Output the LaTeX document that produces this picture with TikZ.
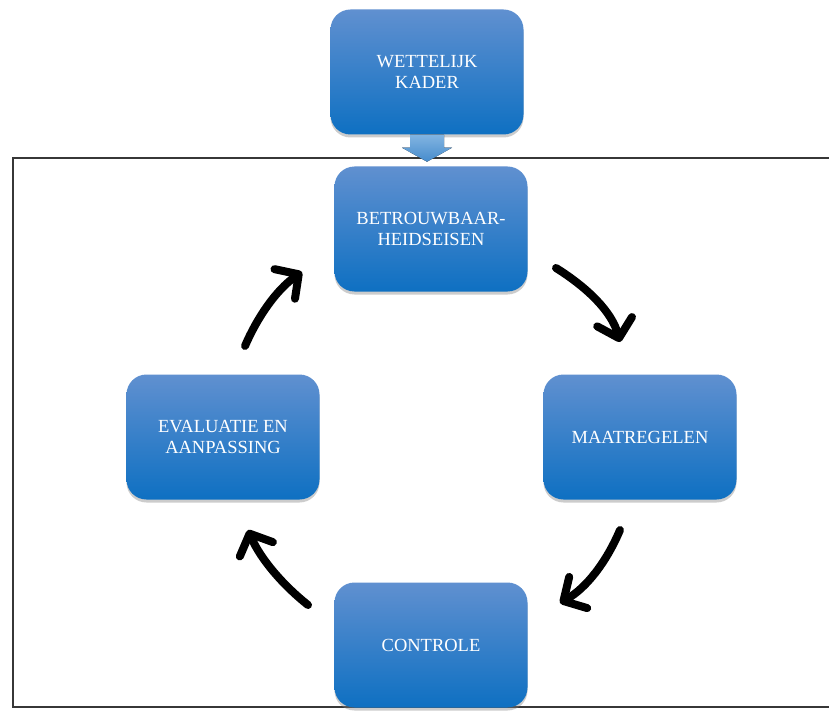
\documentclass[tikz,border=0pt]{standalone}
\usepackage{fontspec}
\setmainfont{Liberation Serif}
\usetikzlibrary{arrows.meta,shadows,calc}
\definecolor{boxtop}{RGB}{96,144,208}
\definecolor{boxbot}{RGB}{14,112,194}
\definecolor{frameline}{RGB}{55,55,55}
\definecolor{arrtop}{RGB}{130,180,225}
\definecolor{arrbot}{RGB}{70,140,205}
\tikzset{
  stepbox/.style={rounded corners=20pt, minimum width=193pt, minimum height=125pt,
    top color=boxtop, bottom color=boxbot, draw=none, text=white, align=center,
    font=\fontsize{18.5}{21}\selectfont,
    drop shadow={shadow xshift=0pt, shadow yshift=-3pt, opacity=0.4}},
  cyclearrow/.style={line width=8pt, line cap=round, line join=round, black,
    -{Straight Barb[length=17pt,width=36pt,line cap=round,line join=round]}},
}
\begin{document}
\begin{tikzpicture}[x=1pt,y=-1pt]
\useasboundingbox (0,0) rectangle (829,711);
\fill[white] (0,0) rectangle (829,711);
\begin{scope}
\clip (0,0) rectangle (829,711);
\draw[frameline, line width=1.8pt] (13,158) rectangle (860,707);
\end{scope}
\node[stepbox] (wk) at (427,72) {WETTELIJK\\KADER};
\node[stepbox] (bh) at (431,229) {BETROUWBAAR-\\HEIDSEISEN};
\node[stepbox] (mr) at (640,437) {MAATREGELEN};
\node[stepbox] (ev) at (223,437) {EVALUATIE EN\\AANPASSING};
\node[stepbox] (ct) at (431,645) {CONTROLE};
% small block arrow from WETTELIJK KADER down
\fill[top color=arrtop, bottom color=arrbot]
  ($(wk.south)+(-17,0)$) -- ($(wk.south)+(17,0)$) -- ($(wk.south)+(17,13)$) --
  ($(wk.south)+(25,13)$) -- ($(wk.south)+(0,27)$) -- ($(wk.south)+(-25,13)$) --
  ($(wk.south)+(-17,13)$) -- cycle;
% cycle arrows
\coordinate (a1s) at (556,268); \coordinate (a1e) at (620,342);
\coordinate (a2s) at (620,530); \coordinate (a2e) at (560,603);
\coordinate (a3s) at (308,605); \coordinate (a3e) at (248,530);
\coordinate (a4s) at (245,346); \coordinate (a4e) at (302,272);
\draw[cyclearrow] (a1s) .. controls (588,288) and (612,312) .. (a1e);
\draw[cyclearrow] (a2s) .. controls (606,563) and (586,588) .. (a2e);
\draw[cyclearrow] (a3s) .. controls (284,586) and (261,560) .. (a3e);
\draw[cyclearrow] (a4s) .. controls (257,318) and (276,290) .. (a4e);
\end{tikzpicture}
\end{document}
